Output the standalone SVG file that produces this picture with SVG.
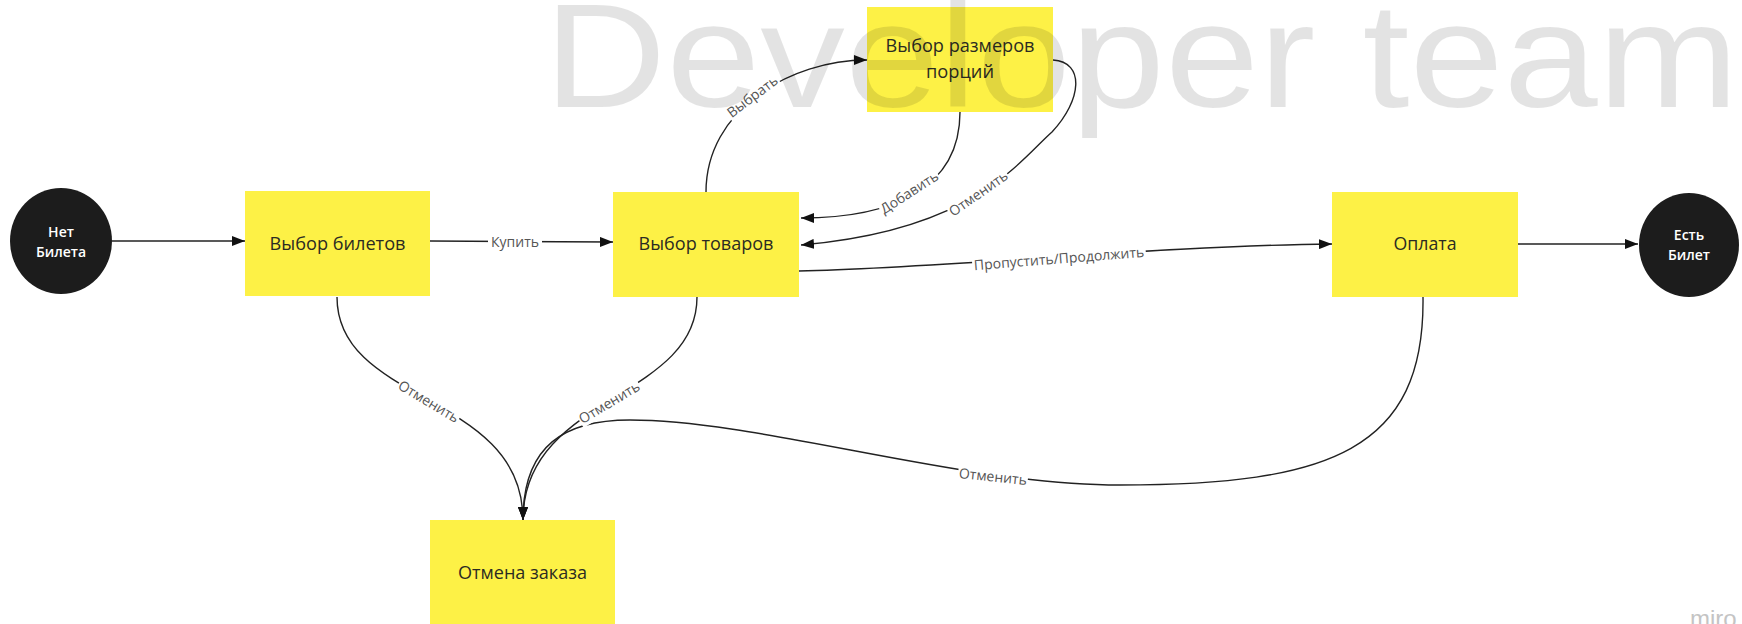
<svg xmlns="http://www.w3.org/2000/svg" width="1742" height="624" viewBox="0 0 1742 624">
  <defs>
    <marker id="arrow" viewBox="0 0 13 10" refX="13" refY="5" markerWidth="13" markerHeight="10" markerUnits="userSpaceOnUse" orient="auto">
      <path d="M0,0 L13,5 L0,10 Z" fill="#111"/>
    </marker>
  </defs>
  <style>
    .box { fill: #fdf146; }
    .box-text { font-family: "Open Sans", "Liberation Sans", sans-serif; font-size: 18.5px; fill: #2b2b22; text-anchor: middle; }
    .term { fill: #1c1c1c; }
    .term-text { font-family: "Open Sans", "Liberation Sans", sans-serif; font-size: 14px; font-weight: 600; fill: #ffffff; text-anchor: middle; }
    .edge { fill: none; stroke: #222; stroke-width: 1.4; }
    .lbl-bg { fill: #ffffff; }
    .lbl { font-family: "Open Sans", "Liberation Sans", sans-serif; font-size: 14px; fill: #555; text-anchor: middle; dominant-baseline: central; }
    .watermark { font-family: "Liberation Sans", Arial, sans-serif; font-size: 149px; fill: #000; fill-opacity: 0.11; }
    .brand { font-family: "Liberation Sans", Arial, sans-serif; font-size: 24px; fill: #c4c4c4; }
  </style>

  <rect width="1742" height="624" fill="#ffffff"/>

  <!-- connectors -->
  <g id="connectors">
    <path class="edge" d="M112,241 L245,241" marker-end="url(#arrow)"/>

    <path class="edge" d="M430,241 L613,242" marker-end="url(#arrow)"/>
    <g transform="translate(515,241)"><rect class="lbl-bg" x="-27" y="-9" width="54" height="18"/><text class="lbl">Купить</text></g>

    <path class="edge" d="M706,192 C706,110 790,60 867,60" marker-end="url(#arrow)"/>
    <g transform="translate(752,96) rotate(-37)"><rect class="lbl-bg" x="-31" y="-9" width="62" height="18"/><text class="lbl">Выбрать</text></g>

    <path class="edge" d="M960,112 C960,190 890,218 801,218" marker-end="url(#arrow)"/>
    <g transform="translate(909,192) rotate(-33)"><rect class="lbl-bg" x="-34" y="-9" width="68" height="18"/><text class="lbl">Добавить</text></g>

    <path class="edge" d="M1053,60 C1085,62 1082,100 1052,132 C1020,160 975,230 801,245" marker-end="url(#arrow)"/>
    <g transform="translate(978,193) rotate(-35)"><rect class="lbl-bg" x="-35" y="-9" width="70" height="18"/><text class="lbl">Отменить</text></g>

    <path class="edge" d="M799,271 C950,268 1150,246 1332,244" marker-end="url(#arrow)"/>
    <g transform="translate(1059,258) rotate(-4.5)"><rect class="lbl-bg" x="-87" y="-9" width="174" height="18"/><text class="lbl">Пропустить/Продолжить</text></g>

    <path class="edge" d="M1518,244 L1638,244" marker-end="url(#arrow)"/>

    <path class="edge" d="M337,297 C337,405 523,392 523,520" marker-end="url(#arrow)"/>
    <g transform="translate(429,401) rotate(31)"><rect class="lbl-bg" x="-35" y="-9" width="70" height="18"/><text class="lbl">Отменить</text></g>

    <path class="edge" d="M697,297 C697,400 523,395 523,520" marker-end="url(#arrow)"/>
    <path class="edge" d="M1423,297 C1425,450 1330,485 1120,485 C960,485 760,420 630,420 C565,420 523,445 523,520" marker-end="url(#arrow)"/>
    <g transform="translate(609,402) rotate(-31)"><rect class="lbl-bg" x="-35" y="-9" width="70" height="18"/><text class="lbl">Отменить</text></g>
    <g transform="translate(993,476) rotate(6)"><rect class="lbl-bg" x="-35" y="-9" width="70" height="18"/><text class="lbl">Отменить</text></g>
  </g>

  <!-- nodes -->
  <g id="node-no-ticket">
    <ellipse class="term" cx="61" cy="241" rx="51" ry="53"/>
    <text class="term-text" x="61" y="237">Нет</text>
    <text class="term-text" x="61" y="257">Билета</text>
  </g>

  <g id="node-tickets">
    <rect class="box" x="245" y="191" width="185" height="105"/>
    <text class="box-text" x="337.5" y="250" textLength="136" lengthAdjust="spacingAndGlyphs">Выбор билетов</text>
  </g>

  <g id="node-goods">
    <rect class="box" x="613" y="192" width="186" height="105"/>
    <text class="box-text" x="706" y="250" textLength="135" lengthAdjust="spacingAndGlyphs">Выбор товаров</text>
  </g>

  <g id="node-portions">
    <rect class="box" x="867" y="7" width="186" height="105"/>
    <text class="box-text" x="960" y="52" textLength="149" lengthAdjust="spacingAndGlyphs">Выбор размеров</text>
    <text class="box-text" x="960" y="78" textLength="68" lengthAdjust="spacingAndGlyphs">порций</text>
  </g>

  <g id="node-payment">
    <rect class="box" x="1332" y="192" width="186" height="105"/>
    <text class="box-text" x="1425" y="250" textLength="63" lengthAdjust="spacingAndGlyphs">Оплата</text>
  </g>

  <g id="node-has-ticket">
    <ellipse class="term" cx="1689" cy="245" rx="50" ry="52"/>
    <text class="term-text" x="1689" y="240">Есть</text>
    <text class="term-text" x="1689" y="260">Билет</text>
  </g>

  <g id="node-cancel">
    <rect class="box" x="430" y="520" width="185" height="105"/>
    <text class="box-text" x="522.5" y="579" textLength="129" lengthAdjust="spacingAndGlyphs">Отмена заказа</text>
  </g>

  <!-- background lettering laid over the board -->
  <text class="watermark" transform="translate(557,107) scale(1.136,1)" x="-11.5">Developer team</text>
  <text class="brand" x="1690" y="627">miro</text>
</svg>
